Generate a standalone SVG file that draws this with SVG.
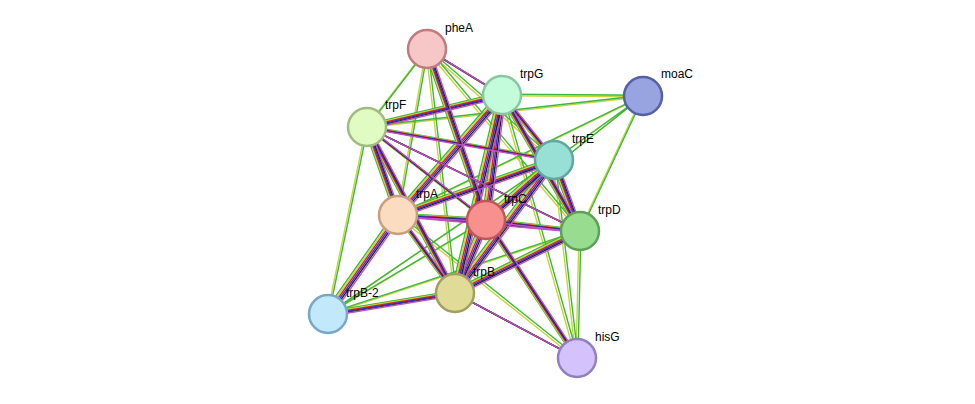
<svg xmlns="http://www.w3.org/2000/svg" xmlns:xlink="http://www.w3.org/1999/xlink" width="975" height="404" viewBox="0 0 975 404">
<style>
.n{stroke-width:2.5}
.t{font-family:"Liberation Sans",Arial,sans-serif;font-size:12px;fill:#000}
.s,.w{fill:none;stroke-width:1.4}
</style>
<defs>
<g id="S">
<path d="M427,49L502,95M427,49L486,220M502,95L367,127M502,95L554,160M502,95L398,215M502,95L486,220M502,95L580,231M502,95L455,293M367,127L554,160M367,127L398,215M367,127L486,220M367,127L580,231M367,127L455,293M554,160L398,215M554,160L486,220M554,160L580,231M554,160L455,293M398,215L486,220M398,215L580,231M398,215L455,293M486,220L580,231M486,220L455,293M580,231L455,293M577,358L455,293M577,358L486,220M328,314L398,215M328,314L455,293"/>
</g>
<g id="W">
<path d="M643,96L502,95M643,96L367,127M643,96L554,160M643,96L486,220M643,96L580,231M643,96L398,215M427,49L367,127M427,49L554,160M427,49L398,215M427,49L455,293M427,49L580,231M577,358L580,231M577,358L554,160M577,358L398,215M577,358L502,95M328,314L367,127M328,314L486,220M328,314L580,231M328,314L554,160"/>
</g>
</defs>
<g id="connectors">
<use xlink:href="#W" class="w" stroke="#c8d43c" transform="translate(-1,0.8)"/>
<use xlink:href="#W" class="w" stroke="#3cb83c" transform="translate(1,-0.8)"/>
<use xlink:href="#S" class="s" stroke="#3cb83c" transform="translate(-3.6,-1.8)"/>
<use xlink:href="#S" class="s" stroke="#c8d43c" transform="translate(-2.2,-1)"/>
<use xlink:href="#S" class="s" stroke="#e02020" transform="translate(-0.8,-0.3)"/>
<use xlink:href="#S" class="s" stroke="#3030e8" transform="translate(0.6,0.4)"/>
<use xlink:href="#S" class="s" stroke="#222" transform="translate(2,1.1)"/>
<use xlink:href="#S" class="s" stroke="#c050c8" transform="translate(3.4,1.8)"/>
</g>
<g id="pheA"><circle class="n" cx="427" cy="49" r="19" fill="#f7c7c7" stroke="#c07c7c"/><text class="t" x="445" y="32">pheA</text></g>
<g id="trpG"><circle class="n" cx="502" cy="95" r="19" fill="#c2fcda" stroke="#88c8a0"/><text class="t" x="520" y="78">trpG</text></g>
<g id="moaC"><circle class="n" cx="643" cy="96" r="19" fill="#98a4e0" stroke="#5560a8"/><text class="t" x="661" y="78">moaC</text></g>
<g id="trpF"><circle class="n" cx="367" cy="127" r="19" fill="#e0fcc2" stroke="#a0bc80"/><text class="t" x="385" y="109">trpF</text></g>
<g id="trpE"><circle class="n" cx="554" cy="160" r="19" fill="#98e0d6" stroke="#5ea8a0"/><text class="t" x="572" y="143">trpE</text></g>
<g id="trpA"><circle class="n" cx="398" cy="215" r="19" fill="#fcdcc0" stroke="#c8a080"/><text class="t" x="416" y="198">trpA</text></g>
<g id="trpC"><circle class="n" cx="486" cy="220" r="19" fill="#f89090" stroke="#c05858"/><text class="t" x="504" y="203">trpC</text></g>
<g id="trpD"><circle class="n" cx="580" cy="231" r="19" fill="#98dc90" stroke="#5ea058"/><text class="t" x="598" y="214">trpD</text></g>
<g id="trpB"><circle class="n" cx="455" cy="293" r="19" fill="#e0dc98" stroke="#a0a060"/><text class="t" x="473" y="276">trpB</text></g>
<g id="trpB-2"><circle class="n" cx="328" cy="314" r="19" fill="#c2e8fc" stroke="#78a8c8"/><text class="t" x="346" y="297">trpB-2</text></g>
<g id="hisG"><circle class="n" cx="577" cy="358" r="19" fill="#d4c2fc" stroke="#9080c0"/><text class="t" x="595" y="341">hisG</text></g>
</svg>
